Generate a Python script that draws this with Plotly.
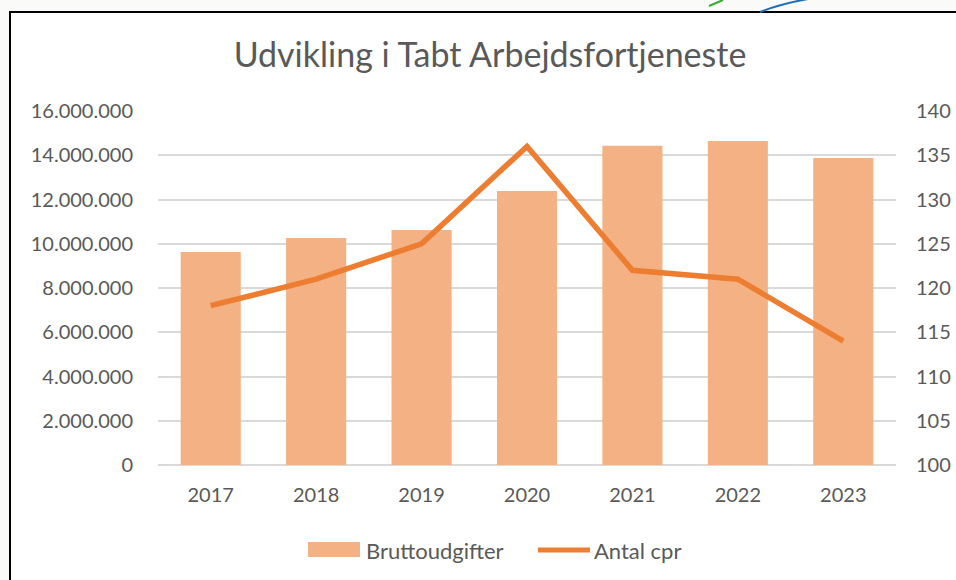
import plotly.graph_objects as go

# data
years = ['2017', '2018', '2019', '2020', '2021', '2022', '2023']
bruttoudgifter = [9630000, 10260000, 10620000, 12380000, 14430000, 14640000, 13880000]
antal_cpr = [118, 121, 125, 136, 122, 121, 114]

BAR_COLOR = '#F4B183'
LINE_COLOR = '#ED7D31'
TEXT_COLOR = '#595959'
GRID_COLOR = '#D9D9D9'
FONT = 'Lato, Open Sans, sans-serif'

# plot area in pixels (for placing the frame, legend and logo bits in paper coords)
PX_L, PX_R, PX_T, PX_B = 158, 896, 111, 465


def px(x):
    return (x - PX_L) / (PX_R - PX_L)


def py(y):
    return (PX_B - y) / (PX_B - PX_T)


fig = go.Figure()

fig.add_trace(go.Bar(x=years, y=bruttoudgifter, name='Bruttoudgifter',
                     marker=dict(color=BAR_COLOR, line=dict(width=0)), yaxis='y'))
fig.add_trace(go.Scatter(x=years, y=antal_cpr, name='Antal cpr', mode='lines',
                         line=dict(color=LINE_COLOR, width=5.5), yaxis='y2'))

shapes = [
    # outer chart frame
    dict(type='rect', xref='paper', yref='paper', layer='below',
         x0=px(10), x1=px(975), y0=py(600), y1=py(12),
         fillcolor='white', line=dict(color='black', width=2)),
    # fragments of a logo peeking in above the frame
    dict(type='line', xref='paper', yref='paper', x0=px(709), y0=py(6), x1=px(723), y1=py(0),
         line=dict(color='#3AAA35', width=2)),
    dict(type='path', xref='paper', yref='paper',
         path='M {} {} Q {} {} {} {}'.format(px(760), py(12), px(780), py(4), px(808), py(-1)),
         line=dict(color='#1F6DB5', width=2)),
    # legend swatches, Excel style
    dict(type='rect', xref='paper', yref='paper', x0=px(308), x1=px(360), y0=py(557), y1=py(542),
         fillcolor=BAR_COLOR, line=dict(width=0)),
    dict(type='line', xref='paper', yref='paper', x0=px(538), x1=px(590), y0=py(550), y1=py(550),
         line=dict(color=LINE_COLOR, width=5)),
]

legend_labels = [
    dict(text='Bruttoudgifter', x=px(364), y=py(550)),
    dict(text='Antal cpr', x=px(592), y=py(550)),
]
annotations = [dict(xref='paper', yref='paper', xanchor='left', yanchor='middle', showarrow=False,
                    font=dict(family=FONT, size=22, color=TEXT_COLOR), **a) for a in legend_labels]

fig.update_layout(
    width=956, height=580,
    margin=dict(l=PX_L, r=956 - PX_R, t=PX_T, b=580 - PX_B, autoexpand=False),
    paper_bgcolor='#FAFAF8', plot_bgcolor='rgba(0,0,0,0)',
    separators=',.',
    font=dict(family=FONT, color=TEXT_COLOR, size=20),
    title=dict(text='Udvikling i Tabt Arbejdsfortjeneste', x=490 / 956, xanchor='center',
               y=1 - 55 / 580, yanchor='middle',
               font=dict(family=FONT, size=34, color=TEXT_COLOR)),
    bargap=0.43,
    showlegend=False,
    xaxis=dict(showgrid=False, showline=False, ticks='outside', ticklen=12,
               tickcolor='rgba(0,0,0,0)', automargin=False),
    yaxis=dict(range=[0, 16000000], dtick=2000000, tickformat=',d',
               showgrid=True, gridcolor=GRID_COLOR, gridwidth=1.5,
               zeroline=True, zerolinecolor=GRID_COLOR, zerolinewidth=1.5,
               ticks='outside', ticklen=20, tickcolor='rgba(0,0,0,0)', automargin=False),
    yaxis2=dict(range=[100, 140], dtick=5, overlaying='y', side='right',
                showgrid=False, zeroline=False, automargin=False,
                ticks='outside', ticklen=15, tickcolor='rgba(0,0,0,0)'),
    shapes=shapes,
    annotations=annotations,
)

fig.write_html('out.html', config={'displayModeBar': False},
               post_script="document.body.style.margin='0';"
                           "document.body.style.overflow='hidden';"
                           "document.body.style.background='#FAFAF8';")
